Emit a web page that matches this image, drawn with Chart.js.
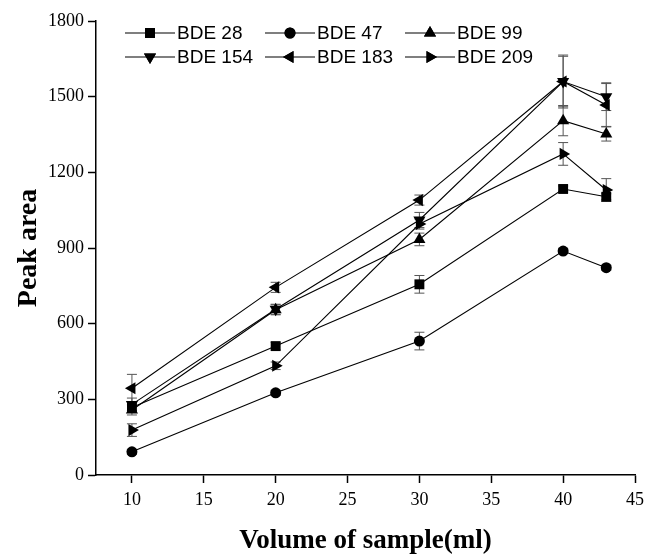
<!DOCTYPE html>
<html>
<head>
<meta charset="utf-8">
<script src="https://cdn.jsdelivr.net/npm/chart.js@4.4.1/dist/chart.umd.min.js"></script>
<style>
  html, body { margin: 0; padding: 0; background: #fff; }
  #wrap { width: 650px; height: 557px; }
</style>
</head>
<body>
<div id="wrap"><canvas id="chart" width="650" height="557"></canvas></div>
<script>
const volumes = [10, 20, 30, 40, 43];
const xTicks = [10, 15, 20, 25, 30, 35, 40, 45];
const yTicks = [0, 300, 600, 900, 1200, 1500, 1800];

const seriesNames = ['BDE 28', 'BDE 47', 'BDE 99', 'BDE 154', 'BDE 183', 'BDE 209'];
const bde28 = [268, 511, 756, 1134, 1103];
const bde47 = [92, 326, 531, 888, 822];
const bde99 = [258, 655, 934, 1405, 1352];
const bde154 = [280, 657, 1011, 1560, 1500];
const bde183 = [344, 744, 1090, 1560, 1467];
const bde209 = [178, 433, 995, 1273, 1130];

// standard deviations (error bars)
const err28 = [20, 15, 35, 12, 12];
const err47 = [10, 10, 35, 10, 10];
const err99 = [20, 20, 25, 60, 28];
const err154 = [25, 20, 30, 105, 55];
const err183 = [55, 20, 20, 100, 85];
const err209 = [25, 15, 20, 45, 45];

const markers = [
    { style: 'rect', rotation: 0, radius: 7 },
    { style: 'circle', rotation: 0, radius: 5.5 },
    { style: 'triangle', rotation: 0, radius: 7 },
    { style: 'triangle', rotation: 180, radius: 7 },
    { style: 'triangle', rotation: -90, radius: 7 },
    { style: 'triangle', rotation: 90, radius: 7 }
];
const allValues = [bde28, bde47, bde99, bde154, bde183, bde209];
const allErrors = [err28, err47, err99, err154, err183, err209];

const datasets = allValues.map((vals, i) => ({
    label: seriesNames[i],
    data: vals.map((v, j) => ({ x: volumes[j], y: v })),
    errors: allErrors[i],
    borderColor: '#000',
    backgroundColor: '#000',
    borderWidth: 1.1,
    pointStyle: markers[i].style,
    pointRotation: markers[i].rotation,
    pointRadius: markers[i].radius,
    pointBorderWidth: 0,
    pointBackgroundColor: '#000',
    tension: 0
}));

const errorBars = {
    id: 'errorBars',
    beforeDatasetsDraw(chart) {
        const { ctx, scales: { x, y } } = chart;
        ctx.save();
        ctx.strokeStyle = '#555';
        ctx.lineWidth = 1;
        chart.data.datasets.forEach(ds => {
            ds.data.forEach((p, j) => {
                const e = ds.errors[j];
                const px = x.getPixelForValue(p.x);
                const top = y.getPixelForValue(p.y + e);
                const bot = y.getPixelForValue(p.y - e);
                ctx.beginPath();
                ctx.moveTo(px, top); ctx.lineTo(px, bot);
                ctx.moveTo(px - 5, top); ctx.lineTo(px + 5, top);
                ctx.moveTo(px - 5, bot); ctx.lineTo(px + 5, bot);
                ctx.stroke();
            });
        });
        ctx.restore();
    }
};

// line + marker legend, two rows of three
const lineLegend = {
    id: 'lineLegend',
    afterDraw(chart) {
        const { ctx } = chart;
        const colX = [125, 265, 405];
        const rowY = [33, 57];
        ctx.save();
        ctx.font = '19px "Liberation Sans", Arial, sans-serif';
        ctx.textBaseline = 'middle';
        ctx.fillStyle = '#000';
        chart.data.datasets.forEach((ds, i) => {
            const x0 = colX[i % 3];
            const yy = rowY[Math.floor(i / 3)];
            ctx.strokeStyle = '#000';
            ctx.lineWidth = 1.1;
            ctx.beginPath();
            ctx.moveTo(x0, yy); ctx.lineTo(x0 + 50, yy);
            ctx.stroke();
            Chart.helpers.drawPoint(ctx, {
                pointStyle: markers[i].style,
                rotation: markers[i].rotation,
                radius: markers[i].radius,
                borderWidth: 0
            }, x0 + 25, yy);
            ctx.fill();
            ctx.fillText(ds.label, x0 + 52, yy + 1);
        });
        ctx.restore();
    }
};

const serif = '"Liberation Serif", "Times New Roman", serif';

new Chart(document.getElementById('chart'), {
    type: 'line',
    data: { datasets },
    options: {
        responsive: false,
        animation: false,
        layout: { padding: { top: 21, right: 12, bottom: 0, left: 0 } },
        plugins: { legend: { display: false }, tooltip: { enabled: false } },
        scales: {
            x: {
                type: 'linear',
                min: 7.5,
                max: 45,
                afterBuildTicks: s => { s.ticks = xTicks.map(v => ({ value: v })); },
                afterFit: s => { s.height = 82; },
                border: { color: '#000', width: 1.5 },
                grid: { drawOnChartArea: false, drawTicks: true, tickLength: 8, color: '#000', tickWidth: 1.5 },
                ticks: { color: '#000', font: { family: serif, size: 18 }, padding: 6, maxRotation: 0,
                    callback: v => String(v) },
                title: {
                    display: true, text: 'Volume of sample(ml)', color: '#000',
                    font: { family: serif, size: 27, weight: 'bold' },
                    padding: { top: 16, bottom: 0 }
                }
            },
            y: {
                min: 0,
                max: 1800,
                afterBuildTicks: s => { s.ticks = yTicks.map(v => ({ value: v })); },
                afterFit: s => { s.width = 96; },
                border: { color: '#000', width: 1.5 },
                grid: { drawOnChartArea: false, drawTicks: true, tickLength: 8, color: '#000', tickWidth: 1.5 },
                ticks: { color: '#000', font: { family: serif, size: 18 }, padding: 4,
                    callback: v => String(v) },
                title: {
                    display: true, text: 'Peak area', color: '#000',
                    font: { family: serif, size: 28, weight: 'bold' },
                    padding: { top: 12, bottom: 0 }
                }
            }
        }
    },
    plugins: [errorBars, lineLegend]
});
</script>
</body>
</html>
